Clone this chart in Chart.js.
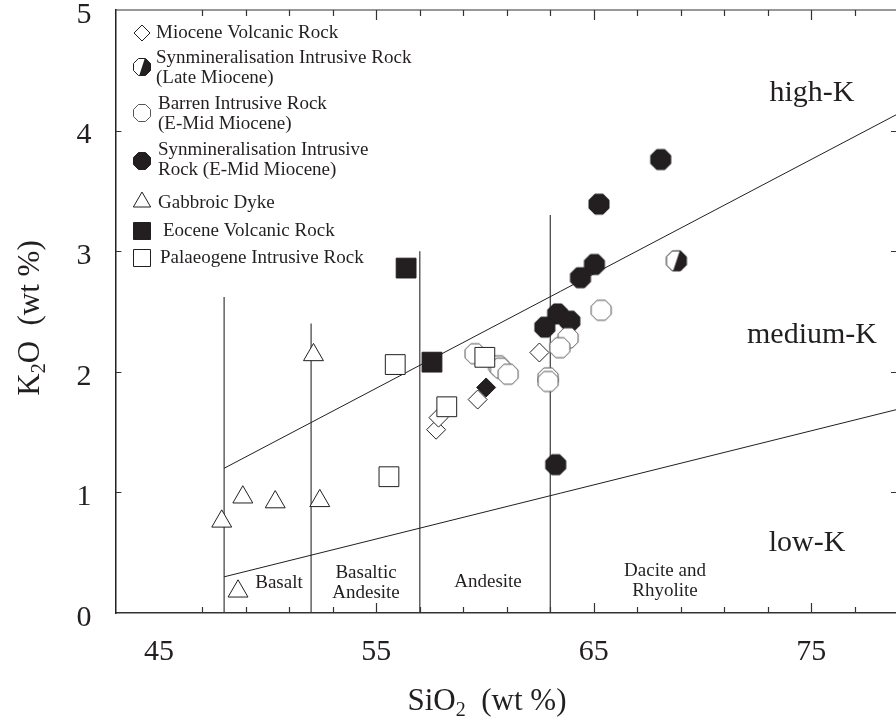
<!DOCTYPE html>
<html>
<head>
<meta charset="utf-8">
<script src="https://cdn.jsdelivr.net/npm/chart.js@4.4.1/dist/chart.umd.min.js"></script>
<style>
  html, body { margin: 0; padding: 0; background: #fff; overflow: hidden; }
  #wrap { width: 896px; height: 722px; position: relative; }
</style>
</head>
<body>
<div id="wrap"><canvas id="myChart"></canvas></div>
<script>
const INK = "#231f20";
const SERIF = "'Liberation Serif', 'Times New Roman', serif";

// Axis tick labels
const xTickValues = [45, 55, 65, 75];
const xMinorTicks = [47, 49, 51, 53, 55, 57, 59, 61, 63, 65, 67, 69, 71, 73, 75, 77];
const xMajorTicks = [55, 65, 75];
const yTickValues = [1, 2, 3, 4];

// Miocene Volcanic Rock (open diamonds)
const mioceneVolcanicSiO2 = [57.75, 57.86, 59.66, 62.5];
const mioceneVolcanicK2O = [1.52, 1.62, 1.77, 2.16];
// the one solid diamond
const solidDiamondSiO2 = [60.05];
const solidDiamondK2O = [1.87];

// Synmineralisation Intrusive Rock (Late Miocene)
const synLateSiO2 = [68.8];
const synLateK2O = [2.92];

// Barren Intrusive Rock (E-Mid Miocene)
const barrenSiO2 = [65.34, 63.82, 63.44, 59.54, 60.62, 60.71, 61.06, 62.9, 62.9];
const barrenK2O = [2.51, 2.28, 2.2, 2.15, 2.05, 2.03, 1.98, 1.95, 1.92];

// Synmineralisation Intrusive Rock (E-Mid Miocene)
const synEarlySiO2 = [68.08, 65.24, 65.03, 64.39, 63.34, 63.9, 62.75, 63.25];
const synEarlyK2O = [3.76, 3.39, 2.89, 2.78, 2.48, 2.42, 2.37, 1.23];

// Gabbroic Dyke
const gabbroSiO2 = [47.89, 48.86, 50.35, 52.4, 52.11, 48.64];
const gabbroK2O = [0.76, 0.96, 0.92, 0.93, 2.14, 0.18];

// Eocene Volcanic Rock
const eoceneSiO2 = [57.56, 56.37];
const eoceneK2O = [2.08, 2.86];

// Palaeogene Intrusive Rock
const palaeogeneSiO2 = [55.87, 55.58, 58.24, 59.99];
const palaeogeneK2O = [2.06, 1.13, 1.71, 2.12];

// Series boundaries (Peccerillo & Taylor style)
const boundarySiO2 = [48, 79];
const highKLine = [1.2, 4.14];
const lowKLine = [0.3, 1.69];
const dividerSiO2 = [48, 52, 57, 63];
const dividerTop = [2.62, 2.4, 3.0, 3.3];

const toPoints = (xs, ys) => xs.map((x, i) => ({ x: x, y: ys[i] }));

// octagon markers (flat top), r = half width
function octagonPath(g, cx, cy, r) {
  const R = r / Math.cos(Math.PI / 8);
  g.beginPath();
  for (let i = 0; i < 8; i++) {
    const a = Math.PI / 8 + i * Math.PI / 4;
    const px = cx + R * Math.cos(a);
    const py = cy + R * Math.sin(a);
    if (i === 0) g.moveTo(px, py);
    else g.lineTo(px, py);
  }
  g.closePath();
}

function drawOctagon(g, cx, cy, r, kind) {
  octagonPath(g, cx, cy, r);
  g.fillStyle = kind === "solid" ? INK : "#fff";
  g.fill();
  if (kind === "half") {
    g.save();
    octagonPath(g, cx, cy, r);
    g.clip();
    const d = r * 0.4;
    g.beginPath();
    g.moveTo(cx + d, cy - r - 2);
    g.lineTo(cx + r + 3, cy - r - 2);
    g.lineTo(cx + r + 3, cy + r + 2);
    g.lineTo(cx - d, cy + r + 2);
    g.closePath();
    g.fillStyle = INK;
    g.fill();
    g.restore();
  }
  octagonPath(g, cx, cy, r);
  g.lineWidth = 1;
  g.strokeStyle = kind === "open" ? "#555" : INK;
  g.stroke();
}

function makeOctagon(r, kind) {
  const size = Math.ceil((2 * r) / Math.cos(Math.PI / 8)) + 4;
  const c = document.createElement("canvas");
  c.width = size;
  c.height = size;
  drawOctagon(c.getContext("2d"), size / 2, size / 2, r, kind);
  return c;
}

const octSolid = makeOctagon(10, "solid");
const octOpen = makeOctagon(10, "open");
const octHalf = makeOctagon(10, "half");

function scatterSet(label, xs, ys, style, radius, fill, border) {
  return {
    label: label,
    data: toPoints(xs, ys),
    pointStyle: style,
    pointRadius: radius,
    pointHoverRadius: radius,
    pointBackgroundColor: fill,
    pointBorderColor: border || INK,
    pointBorderWidth: 1,
  };
}

function lineSet(xs, ys, color, width) {
  return {
    type: "line",
    data: toPoints(xs, ys),
    showLine: true,
    borderColor: color,
    borderWidth: width,
    pointRadius: 0,
    fill: false,
    order: 10,
  };
}

// ticks pointing into the plot, plus the top frame line
const frameTicks = {
  id: "frameTicks",
  afterDraw(chart) {
    const { ctx, chartArea: a, scales } = chart;
    ctx.save();
    ctx.strokeStyle = "#333";
    ctx.lineWidth = 1.2;
    ctx.beginPath();
    ctx.moveTo(a.left, a.top);
    ctx.lineTo(a.right, a.top);
    xMinorTicks.forEach((v) => {
      const px = Math.round(scales.x.getPixelForValue(v)) + 0.5;
      const len = xMajorTicks.includes(v) ? 10 : 6;
      ctx.moveTo(px, a.bottom);
      ctx.lineTo(px, a.bottom - len);
      ctx.moveTo(px, a.top);
      ctx.lineTo(px, a.top + len);
    });
    yTickValues.forEach((v) => {
      const py = Math.round(scales.y.getPixelForValue(v)) + 0.5;
      ctx.moveTo(a.left, py);
      ctx.lineTo(a.left + 6, py);
      ctx.moveTo(a.right, py);
      ctx.lineTo(a.right - 5, py);
    });
    ctx.stroke();
    ctx.restore();
  },
};

// field names, axis titles and the legend
const annotations = {
  id: "annotations",
  afterDraw(chart) {
    const ctx = chart.ctx;
    ctx.save();
    ctx.fillStyle = INK;
    ctx.textAlign = "center";
    ctx.textBaseline = "middle";

    ctx.font = "19px " + SERIF;
    ctx.fillText("Basalt", 279, 583);
    ctx.fillText("Basaltic", 366, 573);
    ctx.fillText("Andesite", 366, 593);
    ctx.fillText("Andesite", 488, 582);
    ctx.fillText("Dacite and", 665, 571);
    ctx.fillText("Rhyolite", 665, 591);

    ctx.font = "30px " + SERIF;
    ctx.fillText("high-K", 812, 93);
    ctx.fillText("medium-K", 812, 335);
    ctx.fillText("low-K", 807, 543);

    // axis titles with subscript 2
    drawSubTitle(ctx, "SiO", "2", "  (wt %)", 487, 700, 0);
    drawSubTitle(ctx, "K", "2", "O  (wt %)", 29, 318, -Math.PI / 2);

    drawLegend(ctx);
    ctx.restore();
  },
};

function drawSubTitle(ctx, a, sub, b, cx, cy, rot) {
  ctx.save();
  ctx.translate(cx, cy);
  ctx.rotate(rot);
  ctx.textAlign = "left";
  ctx.textBaseline = "alphabetic";
  const big = "31px " + SERIF;
  const small = "20px " + SERIF;
  ctx.font = big;
  const wa = ctx.measureText(a).width;
  const wb = ctx.measureText(b).width;
  ctx.font = small;
  const ws = ctx.measureText(sub).width;
  let x = -(wa + ws + wb) / 2;
  const base = 10;
  ctx.font = big;
  ctx.fillText(a, x, base);
  x += wa;
  ctx.font = small;
  ctx.fillText(sub, x, base + 6);
  x += ws;
  ctx.font = big;
  ctx.fillText(b, x, base);
  ctx.restore();
}

const legendLabels = [
  ["Miocene Volcanic Rock"],
  ["Synmineralisation Intrusive Rock", "(Late Miocene)"],
  ["Barren Intrusive Rock", "(E-Mid Miocene)"],
  ["Synmineralisation Intrusive", "Rock (E-Mid Miocene)"],
  ["Gabbroic Dyke"],
  ["Eocene Volcanic Rock"],
  ["Palaeogene Intrusive Rock"],
];
const legendMarkerY = [33, 67, 113, 161, 202, 231, 258];
const legendTextX = [156, 156, 158, 158, 158, 163, 160];
const legendTextY = [[33], [58, 78], [104, 124], [150, 170], [203], [231], [258]];

function drawLegend(ctx) {
  const mx = 142;
  legendMarkerY.forEach((my, i) => {
    ctx.save();
    ctx.lineWidth = 1;
    ctx.strokeStyle = INK;
    ctx.fillStyle = "#fff";
    ctx.beginPath();
    if (i === 0) {
      ctx.moveTo(mx - 8, my);
      ctx.lineTo(mx, my - 8);
      ctx.lineTo(mx + 8, my);
      ctx.lineTo(mx, my + 8);
      ctx.closePath();
      ctx.fill();
      ctx.stroke();
    } else if (i >= 1 && i <= 3) {
      const kind = ["half", "open", "solid"][i - 1];
      drawOctagon(ctx, mx, my, 8.5, kind);
    } else if (i === 4) {
      const r = 10;
      ctx.moveTo(mx, my - r);
      ctx.lineTo(mx + r * 0.866, my + r / 2);
      ctx.lineTo(mx - r * 0.866, my + r / 2);
      ctx.closePath();
      ctx.fill();
      ctx.stroke();
    } else {
      ctx.rect(mx - 8.5, my - 8.5, 17, 17);
      ctx.fillStyle = i === 5 ? INK : "#fff";
      ctx.fill();
      ctx.stroke();
    }
    ctx.restore();

    ctx.fillStyle = INK;
    ctx.font = "19px " + SERIF;
    ctx.textAlign = "left";
    ctx.textBaseline = "middle";
    legendLabels[i].forEach((t, j) => {
      ctx.fillText(t, legendTextX[i], legendTextY[i][j]);
    });
  });
}

const ctx = document.getElementById("myChart");

new Chart(ctx, {
  type: "scatter",
  data: {
    datasets: [
      scatterSet("Palaeogene Intrusive Rock", palaeogeneSiO2, palaeogeneK2O, "rect", 14, "#fff"),
      scatterSet("Eocene Volcanic Rock", eoceneSiO2, eoceneK2O, "rect", 14, INK),
      scatterSet("Gabbroic Dyke", gabbroSiO2, gabbroK2O, "triangle", 11.5, "#fff"),
      scatterSet("Miocene Volcanic Rock (solid)", solidDiamondSiO2, solidDiamondK2O, "rectRot", 9.5, INK),
      scatterSet("Barren Intrusive Rock (E-Mid Miocene)", barrenSiO2, barrenK2O, octOpen, 10, "#fff"),
      scatterSet("Miocene Volcanic Rock", mioceneVolcanicSiO2, mioceneVolcanicK2O, "rectRot", 9.5, "#fff"),
      scatterSet("Synmineralisation Intrusive Rock (E-Mid Miocene)", synEarlySiO2, synEarlyK2O, octSolid, 10, INK),
      scatterSet("Synmineralisation Intrusive Rock (Late Miocene)", synLateSiO2, synLateK2O, octHalf, 10, INK),
      lineSet(boundarySiO2, highKLine, INK, 1),
      lineSet(boundarySiO2, lowKLine, INK, 1),
      ...dividerSiO2.map((s, i) => lineSet([s, s], [0, dividerTop[i]], "#3a3a3a", 1.2)),
    ],
  },
  options: {
    responsive: true,
    maintainAspectRatio: false,
    animation: false,
    events: [],
    layout: { padding: { top: 10, left: 0, right: 0, bottom: 0 }, autoPadding: false },
    scales: {
      x: {
        type: "linear",
        min: 43,
        max: 78.9,
        grid: { display: false, drawTicks: false },
        border: { display: true, color: "#333", width: 1.5 },
        ticks: {
          autoSkip: false,
          maxRotation: 0,
          padding: 21,
          color: INK,
          font: { family: SERIF, size: 30 },
        },
        afterBuildTicks: (axis) => {
          axis.ticks = xTickValues.map((v) => ({ value: v }));
        },
        afterFit: (axis) => {
          axis.height = 109;
          axis.paddingLeft = 0;
          axis.paddingRight = 0;
        },
      },
      y: {
        min: 0,
        max: 5,
        grid: { display: false, drawTicks: false },
        border: { display: true, color: "#222", width: 1.5 },
        ticks: {
          stepSize: 1,
          padding: 24,
          color: INK,
          // blank first line nudges each label a few px below its tick
          font: { family: SERIF, size: 30, lineHeight: "10px" },
          callback: (v) => ["", String(v)],
        },
        afterFit: (axis) => {
          axis.width = 115.4;
          axis.paddingTop = 0;
          axis.paddingBottom = 0;
        },
      },
    },
    plugins: {
      legend: { display: false },
      tooltip: { enabled: false },
    },
  },
  plugins: [frameTicks, annotations],
});
</script>
</body>
</html>
